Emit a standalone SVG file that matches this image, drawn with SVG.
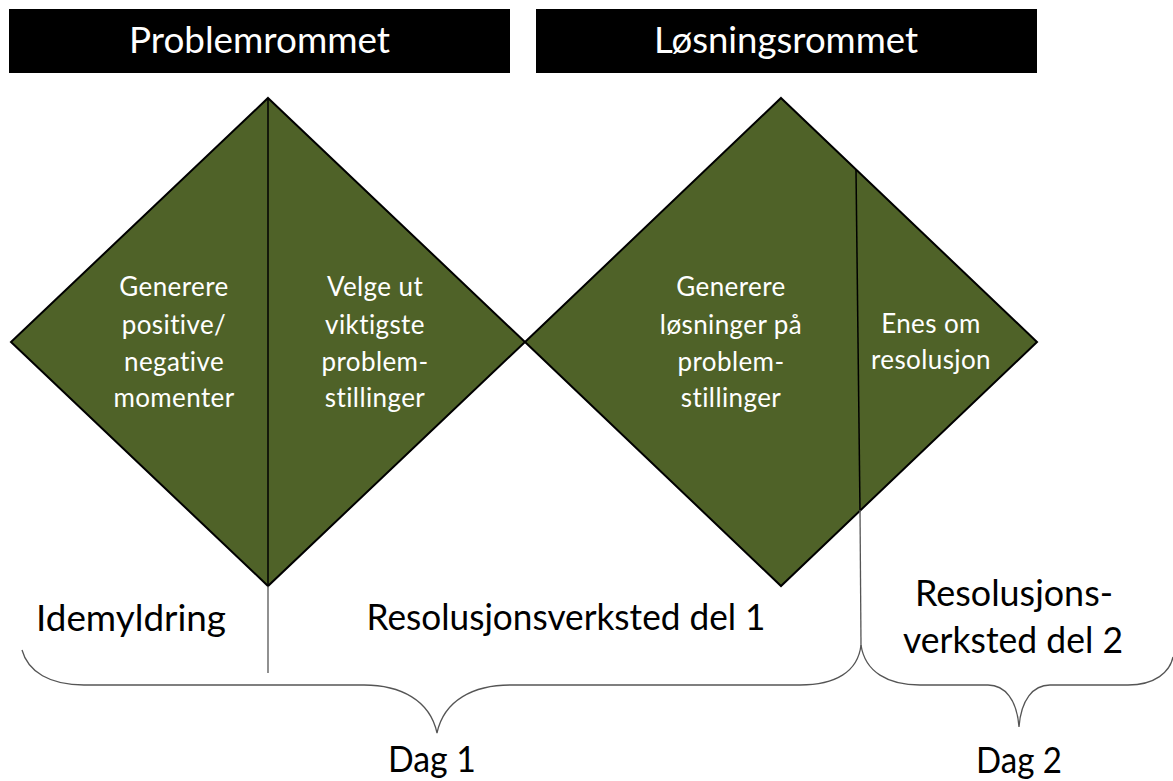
<svg xmlns="http://www.w3.org/2000/svg" width="1173" height="781" viewBox="0 0 1173 781">
<style>
text{font-variant-ligatures:none}
.bar{fill:#000}
.bartxt{font-family:Lato,"Open Sans","Liberation Sans",sans-serif;font-size:36px;fill:#fff;text-anchor:middle}
.dia{fill:#4F6228;stroke:#000;stroke-width:2;stroke-linejoin:miter}
.dtxt{font-family:Lato,"Open Sans","Liberation Sans",sans-serif;font-size:26px;letter-spacing:0.4px;fill:#fff;text-anchor:middle}
.lbl{font-family:Lato,"Open Sans","Liberation Sans",sans-serif;font-size:37px;fill:#000;text-anchor:middle}
.div{stroke:#000;stroke-width:1.5;fill:none}
.gray{stroke:#555;stroke-width:1.3;fill:none}
</style>
<rect width="1173" height="781" fill="#fff"/>
<g id="bar-problem">
<rect class="bar" x="9" y="9" width="501" height="64"/>
<text class="bartxt" x="259.5" y="53" textLength="261" lengthAdjust="spacingAndGlyphs">Problemrommet</text>
</g>
<g id="bar-losning">
<rect class="bar" x="536" y="9" width="501" height="64"/>
<text class="bartxt" x="786" y="53" textLength="264" lengthAdjust="spacingAndGlyphs">Løsningsrommet</text>
</g>
<g id="diamond-problem">
<polygon class="dia" points="268,98 525,342 268,586 11,342"/>
<text class="dtxt" x="174" y="296">Generere</text>
<text class="dtxt" x="174" y="334">positive/</text>
<text class="dtxt" x="174" y="371">negative</text>
<text class="dtxt" x="174" y="407">momenter</text>
<text class="dtxt" x="375" y="296">Velge ut</text>
<text class="dtxt" x="375" y="334">viktigste</text>
<text class="dtxt" x="375" y="371">problem-</text>
<text class="dtxt" x="375" y="407">stillinger</text>
</g>
<g id="diamond-losning">
<polygon class="dia" points="781,98 1037,342 781,586 525,342"/>
<text class="dtxt" x="731" y="296">Generere</text>
<text class="dtxt" x="731" y="334">løsninger på</text>
<text class="dtxt" x="731" y="371">problem-</text>
<text class="dtxt" x="731" y="407">stillinger</text>
<text class="dtxt" x="931" y="333">Enes om</text>
<text class="dtxt" x="931" y="369">resolusjon</text>
</g>
<g id="connectors">
<line class="div" x1="268" y1="98" x2="268" y2="586"/>
<line class="gray" x1="268" y1="586" x2="268" y2="673"/>
<line class="div" x1="856" y1="170" x2="860" y2="510"/>
<line class="gray" x1="860" y1="510" x2="861" y2="645"/>
<path class="gray" d="M22,650 C28,672 50,685 84,685 L364,685 C400,685 430,700 437,733 C444,700 474,685 510,685 L800,685 C835,685 858,672 861,645"/>
<path class="gray" d="M861,645 C865,672 888,685 920,685 L988,685 C1005,685 1017,700 1019,727 C1021,700 1033,685 1050,685 L1128,685 C1155,685 1170,672 1173,657"/>
</g>
<g id="labels">
<text class="lbl" x="131" y="631" textLength="190" lengthAdjust="spacingAndGlyphs">Idemyldring</text>
<text class="lbl" x="566" y="630" textLength="399" lengthAdjust="spacingAndGlyphs">Resolusjonsverksted del 1</text>
<text class="lbl" x="1014" y="606" textLength="198" lengthAdjust="spacingAndGlyphs">Resolusjons-</text>
<text class="lbl" x="1013" y="653" textLength="220" lengthAdjust="spacingAndGlyphs">verksted del 2</text>
<text class="lbl" x="432" y="772" textLength="88" lengthAdjust="spacingAndGlyphs">Dag 1</text>
<text class="lbl" x="1019" y="773" textLength="86" lengthAdjust="spacingAndGlyphs">Dag 2</text>
</g>
</svg>
